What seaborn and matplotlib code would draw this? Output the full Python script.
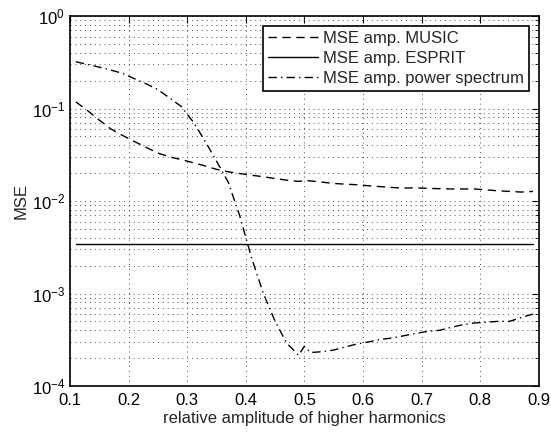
import numpy as np
import pandas as pd
import seaborn as sns
import matplotlib
matplotlib.use("Agg")
import matplotlib.pyplot as plt
from matplotlib.ticker import LogLocator, NullFormatter

sns.set_style("white")
plt.rcParams['font.family'] = ['Liberation Sans', 'DejaVu Sans']
plt.rcParams['mathtext.fontset'] = 'custom'
plt.rcParams['mathtext.rm'] = 'Liberation Sans'

# relative amplitude of higher harmonics
amp = [0.11, 0.13, 0.15, 0.17, 0.19, 0.21, 0.23, 0.25, 0.27, 0.29,
       0.31, 0.33, 0.35, 0.37, 0.39, 0.41, 0.43, 0.45, 0.47, 0.49,
       0.50, 0.51, 0.53, 0.55, 0.57, 0.59, 0.61, 0.63, 0.65, 0.67,
       0.69, 0.71, 0.73, 0.75, 0.77, 0.79, 0.81, 0.83, 0.85, 0.87, 0.89]

mse_music = [0.118, 0.095, 0.075, 0.060, 0.051, 0.044, 0.038, 0.033, 0.030, 0.028,
             0.026, 0.024, 0.022, 0.0207, 0.0198, 0.0190, 0.0183, 0.0175, 0.0168, 0.0163,
             0.0166, 0.0165, 0.0160, 0.0155, 0.0152, 0.0150, 0.0146, 0.0143, 0.0140, 0.0138,
             0.0139, 0.0137, 0.0136, 0.0135, 0.0135, 0.0135, 0.0132, 0.0129, 0.0127, 0.0125, 0.0127]

mse_esprit = [0.00343] * len(amp)

mse_power = [0.32, 0.30, 0.28, 0.26, 0.24, 0.21, 0.185, 0.16, 0.13, 0.105,
             0.072, 0.045, 0.027, 0.016, 0.0068, 0.0024, 0.0010, 0.00050, 0.00029, 0.000215,
             0.00027, 0.00023, 0.000235, 0.000245, 0.000265, 0.000285, 0.00030, 0.00032, 0.00033, 0.00035,
             0.00037, 0.00039, 0.00040, 0.00043, 0.00046, 0.00048, 0.00049, 0.00050, 0.00050, 0.00055, 0.00060]

fig = plt.figure(figsize=(5.51, 4.33), dpi=100)
ax = fig.add_axes([0.127, 0.1085, 0.851, 0.8545])

sns.lineplot(x=amp, y=mse_music, ax=ax, color='black', linestyle=(0, (6, 4)), linewidth=1.0,
             label='MSE amp. MUSIC')
sns.lineplot(x=amp, y=mse_esprit, ax=ax, color='black', linestyle='-', linewidth=1.0,
             label='MSE amp. ESPRIT')
sns.lineplot(x=amp, y=mse_power, ax=ax, color='black', linestyle=(0, (6, 3, 1, 3)), linewidth=1.0,
             label='MSE amp. power spectrum')

ax.set_yscale('log')
ax.set_xlim(0.1, 0.9)
ax.set_ylim(1e-4, 1e0)
ax.set_xticks(np.round(np.arange(0.1, 0.91, 0.1), 1))
ax.set_xticklabels(['0.1', '0.2', '0.3', '0.4', '0.5', '0.6', '0.7', '0.8', '0.9'])
ax.yaxis.set_major_locator(LogLocator(base=10, numticks=10))
ax.yaxis.set_minor_locator(LogLocator(base=10, subs=np.arange(2, 10), numticks=20))
ax.yaxis.set_minor_formatter(NullFormatter())

ax.grid(True, which='major', axis='both', color='0.3', linestyle=(0, (1, 4)), linewidth=0.7)
ax.grid(True, which='minor', axis='y', color='0.3', linestyle=(0, (1, 4)), linewidth=0.7)

ax.tick_params(which='both', direction='in', top=True, right=True, labelsize=12, colors='black')
ax.tick_params(which='major', length=5, width=0.8)
ax.tick_params(which='minor', length=3, width=0.6)
ax.tick_params(axis='x', pad=5)
for s in ax.spines.values():
    s.set_visible(True)
    s.set_color('black')
    s.set_linewidth(1.2)

ax.set_xlabel('relative amplitude of higher harmonics', fontsize=12, labelpad=2)
ax.set_ylabel('MSE', fontsize=12, labelpad=2)

leg = ax.legend(loc='upper right', fontsize=12, frameon=True, fancybox=False,
                borderaxespad=0.6, handlelength=3.0, handletextpad=0.3,
                labelspacing=0.3, borderpad=0.3)
leg.get_frame().set_edgecolor('black')
leg.get_frame().set_linewidth(1.2)
leg.get_frame().set_alpha(1)

fig.savefig('out.png', dpi=100)
